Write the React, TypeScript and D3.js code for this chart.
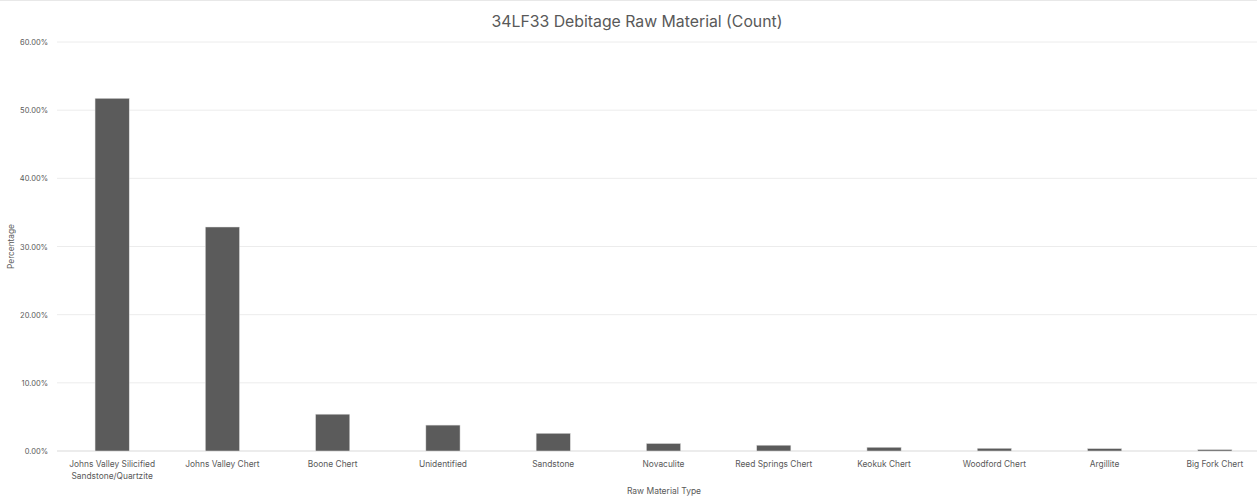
import React from "react";
import * as d3 from "d3";

const categories = [
  "Johns Valley Silicified\nSandstone/Quartzite",
  "Johns Valley Chert",
  "Boone Chert",
  "Unidentified",
  "Sandstone",
  "Novaculite",
  "Reed Springs Chert",
  "Keokuk Chert",
  "Woodford Chert",
  "Argillite",
  "Big Fork Chert",
];
const values = [51.74, 32.86, 5.4, 3.8, 2.6, 1.1, 0.85, 0.55, 0.4, 0.35, 0.2];
const yTicks = [0, 10, 20, 30, 40, 50, 60];

const W = 1257;
const H = 501;
const font = "Inter, 'Open Sans', sans-serif";

export default function App() {
  const x = d3.scaleBand<string>().domain(categories).range([57, 1270]).paddingInner(0.69).paddingOuter(0.345);
  const y = d3.scaleLinear().domain([0, 60]).range([451, 42]);
  return (
    <svg width={W} height={H} style={{ position: "absolute", left: 0, top: 0, background: "#fff" }}>
      <rect x={0} y={0} width={W} height={H} fill="#fff" />
      <line x1={0} x2={W} y1={0.5} y2={0.5} stroke="#e8e8e8" />
      <text x={637} y={27} textAnchor="middle" fontFamily={font} fontSize={15.8} fill="#595959">
        34LF33 Debitage Raw Material (Count)
      </text>
      {yTicks.map((t) => (
        <g key={t}>
          <line x1={57} x2={W} y1={y(t)} y2={y(t)} stroke={t === 0 ? "#d9d9d9" : "#ececec"} strokeWidth={1} />
          <text x={48} y={y(t) + 3} textAnchor="end" fontFamily={font} fontSize={7.5} fill="#595959">
            {t.toFixed(2) + "%"}
          </text>
        </g>
      ))}
      {categories.map((c, i) => (
        <rect key={c} x={x(c)} y={y(values[i])} width={x.bandwidth()} height={y(0) - y(values[i])} fill="#5b5b5b" stroke="#e0e0e0" strokeWidth={0.5} />
      ))}
      {categories.map((c) => {
        const cx = (x(c) as number) + x.bandwidth() / 2;
        return (
          <text key={c} x={cx} y={467} textAnchor="middle" fontFamily={font} fontSize={8.4} fill="#595959">
            {c.split("\n").map((l, j) => (
              <tspan key={j} x={cx} dy={j === 0 ? 0 : 12}>{l}</tspan>
            ))}
          </text>
        );
      })}
      <text x={664} y={494} textAnchor="middle" fontFamily={font} fontSize={8.5} fill="#595959">
        Raw Material Type
      </text>
      <text transform={`translate(14,${y(30)}) rotate(-90)`} textAnchor="middle" fontFamily={font} fontSize={8.3} fill="#595959">
        Percentage
      </text>
    </svg>
  );
}
